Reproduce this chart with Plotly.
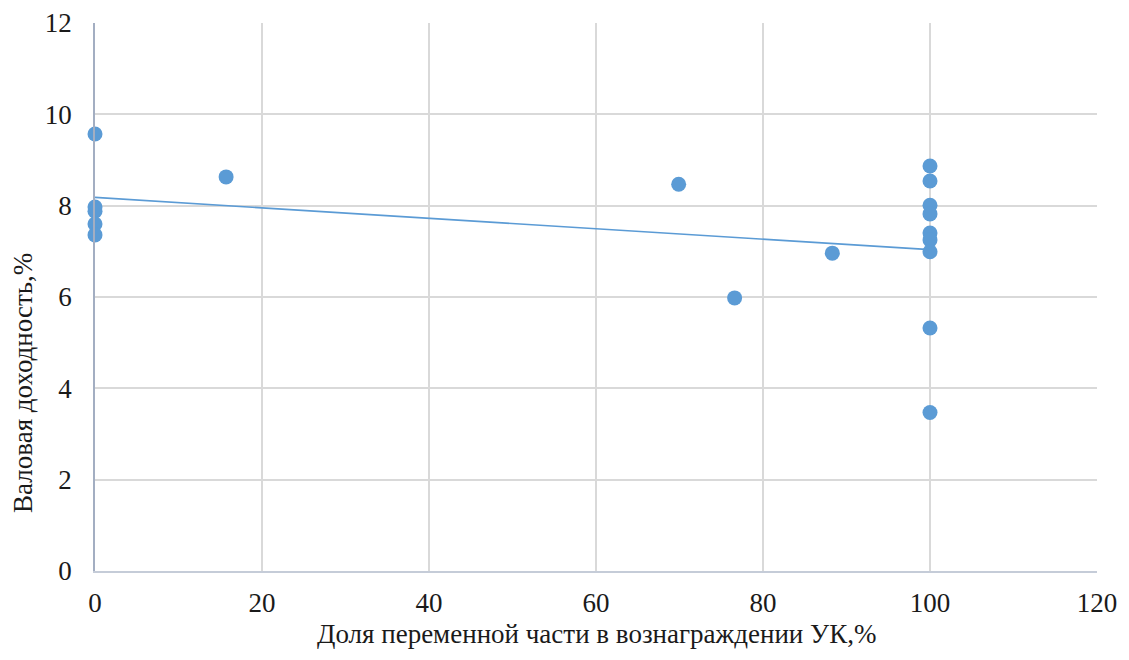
import numpy as np
import plotly.graph_objects as go

# Data
variable_share = [0, 0, 0, 0, 0,
                  15.7, 69.9, 76.6, 88.3,
                  100, 100, 100, 100, 100, 100, 100, 100, 100]
gross_yield = [9.57, 7.97, 7.88, 7.60, 7.36,
               8.63, 8.47, 5.98, 6.96,
               8.87, 8.54, 8.01, 7.82, 7.40, 7.25, 6.99, 5.32, 3.47]

x_ticks = [0, 20, 40, 60, 80, 100, 120]
y_ticks = [0, 2, 4, 6, 8, 10, 12]

x_title = "Доля переменной части в вознаграждении УК,%"
y_title = "Валовая доходность,%"

# Linear trend line (least squares over the data)
xs = np.array(variable_share, dtype=float)
ys = np.array(gross_yield, dtype=float)
slope, intercept = np.polyfit(xs, ys, 1)
trend_x = [xs.min(), xs.max()]
trend_y = [intercept + slope * v for v in trend_x]

blue = "#5b9bd5"
font_family = "Liberation Serif, Times New Roman, serif"
text_color = "#1a1a1a"
fsize = 27

fig = go.Figure()
fig.add_trace(go.Scatter(
    x=trend_x, y=trend_y, mode="lines",
    line=dict(color=blue, width=1.6),
    hoverinfo="skip", showlegend=False, cliponaxis=False))
fig.add_trace(go.Scatter(
    x=variable_share, y=gross_yield, mode="markers",
    marker=dict(color=blue, size=15, line=dict(width=0)),
    showlegend=False, cliponaxis=False))

# page body has an 8px default margin; size the figure so it fits the window
fig.update_layout(
    width=1113, height=644,
    margin=dict(l=87, r=24, t=15, b=81, autoexpand=False),
    paper_bgcolor="white", plot_bgcolor="white",
    font=dict(family=font_family, size=fsize, color=text_color),
    xaxis=dict(
        range=[0, 120], tickvals=x_ticks, ticktext=[str(v) for v in x_ticks],
        showgrid=True, gridcolor="#d9d9d9", gridwidth=1.5,
        zeroline=False, showline=True, linecolor="#c5ccd8", linewidth=1.5,
        ticks="outside", ticklen=7, tickcolor="rgba(0,0,0,0)",
        automargin=False, fixedrange=True),
    yaxis=dict(
        range=[0, 12], tickvals=y_ticks, ticktext=[str(v) for v in y_ticks],
        showgrid=True, gridcolor="#d9d9d9", gridwidth=1.5,
        zeroline=False, showline=True, linecolor="#a3aec2", linewidth=1.5,
        ticks="outside", ticklen=16, tickcolor="rgba(0,0,0,0)",
        automargin=False, fixedrange=True),
    annotations=[
        dict(text=x_title, xref="paper", yref="paper", x=0.5, y=-0.115,
             xanchor="center", yanchor="middle", showarrow=False,
             font=dict(family=font_family, size=fsize, color=text_color)),
        dict(text=y_title, xref="paper", yref="paper", x=-0.072, y=0.343,
             xanchor="center", yanchor="middle", showarrow=False, textangle=-90,
             font=dict(family=font_family, size=fsize, color=text_color)),
    ],
)

fig.write_html("out.html")
